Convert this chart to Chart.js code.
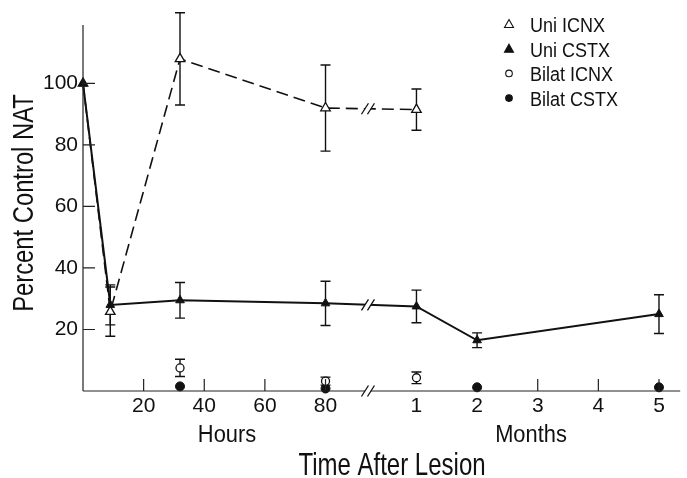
<!DOCTYPE html>
<html>
<head>
<meta charset="utf-8">
<script src="https://cdn.jsdelivr.net/npm/chart.js@4.4.1/dist/chart.umd.min.js"></script>
<style>
  html, body { margin: 0; padding: 0; background: #fff; }
  #wrap { width: 687px; height: 478px; }
</style>
</head>
<body>
<div id="wrap"><canvas id="nat" width="687" height="478"></canvas></div>
<script>
// Time axis: hours run 0-80, then the axis is broken and continues in months.
const hourTicks = [20, 40, 60, 80];
const monthTicks = [1, 2, 3, 4, 5];
const MONTH_ONE_AT = 110;   // axis position of month 1 (in hour units)
const MONTH_WIDTH = 20;     // axis units per month
const BREAK_AT = 94;        // where the // break sits on the axis
const X_MAX = 197;
const Y_MAX = 119;

// Unilateral ICNX (open triangles, dashed)
const uniIcnxHours  = [0, 9, 32, 80];
const uniIcnxMonths = [1];
const uniIcnxMean   = [100, 25.8, 108, 92, 91.5];
const uniIcnxErr    = [0, 8, 15, 14, 6.7];

// Unilateral CSTX (filled triangles, solid)
const uniCstxHours  = [0, 9, 32, 80];
const uniCstxMonths = [1, 2, 5];
const uniCstxMean   = [100, 28, 29.5, 28.5, 27.5, 16.5, 25];
const uniCstxErr    = [0, 6.5, 5.8, 7.2, 5.3, 2.4, 6.3];

// Bilateral ICNX (open circles)
const bilatIcnxHours  = [32, 80];
const bilatIcnxMonths = [1];
const bilatIcnxMean   = [7.5, 3.2, 4.3];
const bilatIcnxErr    = [2.8, 1.3, 1.9];

// Bilateral CSTX (filled circles)
const bilatCstxHours  = [32, 80];
const bilatCstxMonths = [2, 5];
const bilatCstxMean   = [1.5, 0.8, 1.2, 1.2];
const bilatCstxErr    = [0, 0, 0, 0];

const monthPos = m => MONTH_ONE_AT + (m - 1) * MONTH_WIDTH;

function points(hours, months, mean) {
  const xs = hours.concat(months.map(monthPos));
  return xs.map((x, i) => ({ x: x, y: mean[i] }));
}

const tickPositions = hourTicks.concat(monthTicks.map(monthPos));
const tickLabels = hourTicks.map(String).concat(monthTicks.map(String));
// inward tick marks along the time axis (1 and 2 months sit under data marks)
const innerTickPositions = hourTicks.concat([3, 4, 5].map(monthPos));

const FONT = '"Liberation Sans", Arial, sans-serif';

const datasets = [
  {
    label: 'Uni ICNX',
    data: points(uniIcnxHours, uniIcnxMonths, uniIcnxMean),
    errors: uniIcnxErr,
    order: 1,
    showLine: true,
    clip: false,
    borderColor: '#111',
    borderWidth: 1.6,
    borderDash: [12, 6],
    pointStyle: 'triangle',
    pointRadius: 5.5,
    pointBorderWidth: 1.3,
    pointBackgroundColor: '#fff',
    pointBorderColor: '#111',
    breakLine: true
  },
  {
    label: 'Uni CSTX',
    data: points(uniCstxHours, uniCstxMonths, uniCstxMean),
    errors: uniCstxErr,
    order: 0,
    showLine: true,
    clip: false,
    borderColor: '#111',
    borderWidth: 2,
    pointStyle: 'triangle',
    pointRadius: 5,
    pointBorderWidth: 1,
    pointBackgroundColor: '#111',
    pointBorderColor: '#111',
    breakLine: true
  },
  {
    label: 'Bilat ICNX',
    data: points(bilatIcnxHours, bilatIcnxMonths, bilatIcnxMean),
    errors: bilatIcnxErr,
    order: 0,
    showLine: false,
    clip: false,
    pointStyle: 'circle',
    pointRadius: 4,
    pointBorderWidth: 1.3,
    pointBackgroundColor: '#fff',
    pointBorderColor: '#111'
  },
  {
    label: 'Bilat CSTX',
    data: points(bilatCstxHours, bilatCstxMonths, bilatCstxMean),
    errors: bilatCstxErr,
    order: 0,
    showLine: false,
    clip: false,
    pointStyle: 'circle',
    pointRadius: 4.5,
    pointBorderWidth: 1,
    pointBackgroundColor: '#111',
    pointBorderColor: '#111'
  }
];

// Error bars, drawn underneath the markers
const errorBars = {
  id: 'errorBars',
  beforeDatasetsDraw(chart) {
    const { ctx, scales: { x, y } } = chart;
    ctx.save();
    ctx.strokeStyle = '#111';
    ctx.lineWidth = 1.4;
    chart.data.datasets.forEach(ds => {
      ds.data.forEach((p, i) => {
        const e = ds.errors[i];
        if (!e) return;
        const px = x.getPixelForValue(p.x);
        const top = y.getPixelForValue(p.y + e);
        const bot = y.getPixelForValue(Math.max(0, p.y - e));
        ctx.beginPath();
        ctx.moveTo(px, top); ctx.lineTo(px, bot);
        ctx.moveTo(px - 5, top); ctx.lineTo(px + 5, top);
        if (p.y - e > 0) { ctx.moveTo(px - 5, bot); ctx.lineTo(px + 5, bot); }
        ctx.stroke();
      });
    });
    ctx.restore();
  }
};

function drawBreak(ctx, bx, by, gap) {
  ctx.save();
  ctx.fillStyle = '#fff';
  ctx.fillRect(bx - gap, by - 3, gap * 2, 6);
  ctx.strokeStyle = '#111';
  ctx.lineWidth = 1.3;
  ctx.beginPath();
  [-gap, gap].forEach(d => {
    ctx.moveTo(bx + d - 3.5, by + 5.5);
    ctx.lineTo(bx + d + 3.5, by - 5.5);
  });
  ctx.stroke();
  ctx.restore();
}

// Axes with inward ticks, the // breaks, titles and key
const frame = {
  id: 'frame',
  afterDatasetsDraw(chart) {
    const { ctx, chartArea: a, scales: { x, y } } = chart;
    const bx = x.getPixelForValue(BREAK_AT);
    ctx.save();
    ctx.strokeStyle = '#222';
    ctx.lineWidth = 1.2;
    ctx.beginPath();
    ctx.moveTo(a.left, a.top); ctx.lineTo(a.left, a.bottom);
    ctx.moveTo(a.left, a.bottom); ctx.lineTo(a.right, a.bottom);
    [20, 40, 60, 80, 100].forEach(v => {
      const py = y.getPixelForValue(v);
      ctx.moveTo(a.left, py); ctx.lineTo(a.left + 12, py);
    });
    innerTickPositions.forEach(v => {
      const px = x.getPixelForValue(v);
      ctx.moveTo(px, a.bottom); ctx.lineTo(px, a.bottom - 12);
    });
    ctx.stroke();
    ctx.restore();

    drawBreak(ctx, bx, a.bottom, 3);
    chart.data.datasets.forEach((ds, di) => {
      if (!ds.breakLine) return;
      const meta = chart.getDatasetMeta(di);
      const pts = meta.data;
      for (let i = 0; i < pts.length - 1; i++) {
        const p0 = pts[i], p1 = pts[i + 1];
        if (p0.x < bx && p1.x > bx) {
          const t = (bx - p0.x) / (p1.x - p0.x);
          drawBreak(ctx, bx, p0.y + t * (p1.y - p0.y), 3);
        }
      }
    });

    // titles
    ctx.save();
    ctx.fillStyle = '#111';
    ctx.textBaseline = 'alphabetic';
    ctx.textAlign = 'center';

    ctx.save();
    ctx.translate(392, 475);
    ctx.scale(0.75, 1);
    ctx.font = '32px ' + FONT;
    ctx.fillText('Time After Lesion', 0, 0);
    ctx.restore();

    ctx.font = '23px ' + FONT;
    ctx.save();
    ctx.translate(227, 442); ctx.scale(0.95, 1);
    ctx.fillText('Hours', 0, 0);
    ctx.restore();
    ctx.save();
    ctx.translate(531, 442); ctx.scale(0.95, 1);
    ctx.fillText('Months', 0, 0);
    ctx.restore();

    ctx.save();
    ctx.translate(33, 203);
    ctx.rotate(-Math.PI / 2);
    ctx.scale(0.82, 1);
    ctx.font = '29px ' + FONT;
    ctx.fillText('Percent Control NAT', 0, 0);
    ctx.restore();
    ctx.restore();

    // key
    ctx.save();
    ctx.font = '20px ' + FONT;
    ctx.textAlign = 'left';
    ctx.textBaseline = 'alphabetic';
    ctx.fillStyle = '#111';
    chart.data.datasets.forEach((ds, i) => {
      const cy = 24 + i * 24.7;
      const mx = 509;
      ctx.save();
      ctx.lineWidth = 1.1;
      ctx.strokeStyle = '#111';
      ctx.fillStyle = ds.pointBackgroundColor;
      ctx.beginPath();
      if (ds.pointStyle === 'triangle') {
        ctx.moveTo(mx, cy - 4.5); ctx.lineTo(mx + 4.5, cy + 3.5); ctx.lineTo(mx - 4.5, cy + 3.5); ctx.closePath();
      } else {
        ctx.arc(mx, cy, 3.3, 0, Math.PI * 2);
      }
      ctx.fill(); ctx.stroke();
      ctx.restore();
      ctx.save();
      ctx.translate(530, cy + 8);
      ctx.scale(0.9, 1);
      ctx.fillText(ds.label, 0, 0);
      ctx.restore();
    });
    ctx.restore();
  }
};

new Chart(document.getElementById('nat'), {
  type: 'scatter',
  data: { datasets: datasets },
  options: {
    responsive: false,
    animation: false,
    layout: { padding: { top: 25, right: 2, left: 0, bottom: 0 } },
    plugins: { legend: { display: false }, tooltip: { enabled: false } },
    elements: { line: { tension: 0 } },
    scales: {
      x: {
        type: 'linear',
        min: 0,
        max: X_MAX,
        afterFit(scale) { scale.height = 87; },
        afterBuildTicks(scale) { scale.ticks = tickPositions.map(v => ({ value: v })); },
        grid: { display: false, drawTicks: false },
        border: { display: false },
        ticks: {
          padding: 3,
          color: '#111',
          font: { family: FONT, size: 21 },
          maxRotation: 0,
          autoSkip: false,
          callback: v => tickLabels[tickPositions.indexOf(v)]
        }
      },
      y: {
        type: 'linear',
        min: 0,
        max: Y_MAX,
        afterFit(scale) { scale.width = 83; },
        afterBuildTicks(scale) { scale.ticks = [20, 40, 60, 80, 100].map(v => ({ value: v })); },
        grid: { display: false, drawTicks: false },
        border: { display: false },
        ticks: {
          padding: 5,
          color: '#111',
          font: { family: FONT, size: 21 },
          callback: v => String(v)
        }
      }
    }
  },
  plugins: [errorBars, frame]
});
</script>
</body>
</html>
